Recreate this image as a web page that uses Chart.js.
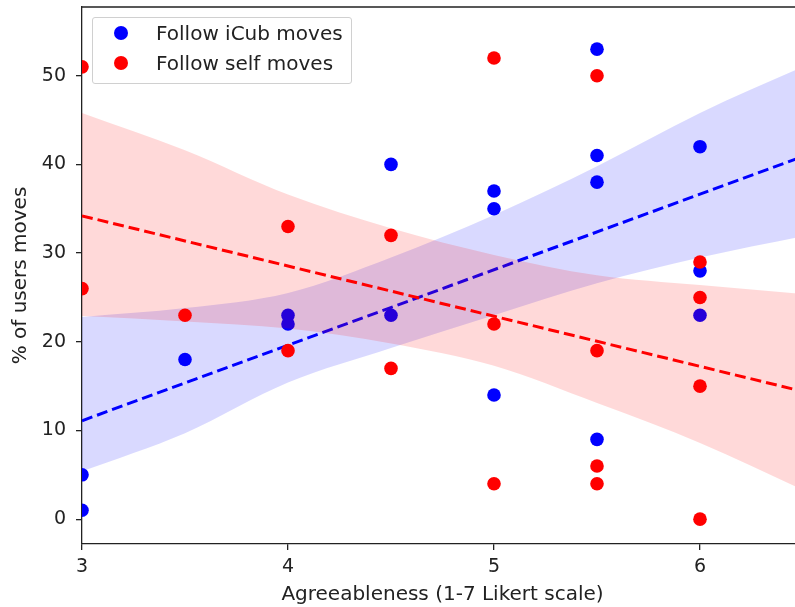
<!DOCTYPE html>
<html>
<head>
<meta charset="utf-8">
<script src="https://cdn.jsdelivr.net/npm/chart.js@4.4.1/dist/chart.umd.min.js"></script>
<style>
    html, body { margin: 0; padding: 0; background: #fff; overflow: hidden; }
    #wrap { position: relative; width: 795px; height: 607px; overflow: hidden; }
    #chart { position: absolute; left: 0; top: 0; }
    .legend {
        position: absolute; left: 92px; top: 17px; width: 258px; height: 65px;
        border: 1px solid #d0d0d0; border-radius: 3px; background: rgba(255,255,255,0.8);
        font-family: 'DejaVu Sans', sans-serif; font-size: 20px; color: #222;
    }
    .legend .row { position: absolute; left: 0; height: 24px; line-height: 24px; }
    .legend .dot { position: absolute; left: 21px; top: 5px; width: 14px; height: 14px; border-radius: 50%; }
    .legend .txt { position: absolute; left: 63px; white-space: nowrap; }
</style>
</head>
<body>
<div id="wrap">
    <canvas id="chart" width="810" height="607"></canvas>
    <div class="legend">
        <div class="row" style="top:3px"><span class="dot" style="background:#0000ff"></span><span class="txt">Follow iCub moves</span></div>
        <div class="row" style="top:33px"><span class="dot" style="background:#ff0000"></span><span class="txt">Follow self moves</span></div>
    </div>
</div>
<script>
const xTicks = [3, 4, 5, 6];
const yTicks = [0, 10, 20, 30, 40, 50];

// scatter points
const icubX = [3, 3, 3.5, 4, 4, 4.5, 4.5, 5, 5, 5, 5.5, 5.5, 5.5, 5.5, 6, 6, 6];
const icubY = [5, 1, 18, 23, 22, 40, 23, 37, 35, 14, 53, 41, 38, 9, 42, 28, 23];
const selfX = [3, 3, 3.5, 4, 4, 4.5, 4.5, 5, 5, 5, 5.5, 5.5, 5.5, 5.5, 6, 6, 6, 6];
const selfY = [51, 26, 23, 33, 19, 32, 17, 52, 22, 4, 50, 19, 6, 4, 29, 25, 15, 0];

// regression lines
const fitX = [3, 6.5];
const icubFit = [11.1, 40.9];
const selfFit = [34.2, 14.4];

// confidence bands
const bandX = [3, 3.5, 4, 4.5, 5, 5.5, 6, 6.5];
const icubUpper = [22.8, 23.8, 25.5, 29.5, 34.3, 39.8, 45.8, 51.0];
const icubLower = [5.4, 9.7, 15.4, 19.3, 23.0, 26.6, 29.5, 31.9];
const selfUpper = [45.8, 41.6, 36.6, 32.8, 29.8, 27.5, 26.4, 25.4];
const selfLower = [22.9, 22.3, 21.5, 19.8, 17.3, 13.1, 8.6, 3.3];

function toPoints(xs, ys) {
    return xs.map((x, i) => ({ x: x, y: ys[i] }));
}

function bandSet(ys, color, fill, order) {
    return {
        data: toPoints(bandX, ys),
        showLine: true,
        borderWidth: 0,
        borderColor: 'rgba(0,0,0,0)',
        backgroundColor: color,
        pointRadius: 0,
        cubicInterpolationMode: 'monotone',
        fill: fill,
        order: order
    };
}

function fitSet(ys, color, order) {
    return {
        data: toPoints(fitX, ys),
        showLine: true,
        borderColor: color,
        borderWidth: 3,
        borderDash: [11, 5],
        pointRadius: 0,
        fill: false,
        order: order
    };
}

function noPad(axis) {
    axis.paddingTop = 0;
    axis.paddingBottom = 0;
    axis.paddingLeft = 0;
    axis.paddingRight = 0;
}

const frame = {
    id: 'frame',
    afterDraw(chart) {
        const { ctx, chartArea } = chart;
        ctx.save();
        ctx.strokeStyle = '#222';
        ctx.lineWidth = 1.3;
        ctx.beginPath();
        ctx.moveTo(chartArea.left, chartArea.top);
        ctx.lineTo(chartArea.right, chartArea.top);
        ctx.lineTo(chartArea.right, chartArea.bottom);
        ctx.stroke();
        ctx.restore();
    }
};

Chart.defaults.font.family = "'DejaVu Sans', sans-serif";
Chart.defaults.font.size = 20;
Chart.defaults.color = '#222';

const ctx = document.getElementById('chart').getContext('2d');
new Chart(ctx, {
    type: 'scatter',
    data: {
        datasets: [
            {
                label: 'Follow iCub moves',
                data: toPoints(icubX, icubY),
                backgroundColor: '#0000ff',
                borderWidth: 0,
                pointRadius: 6.8,
                order: 6
            },
            fitSet(icubFit, '#0000ff', 5),
            bandSet(icubLower, 'rgba(0,0,255,0.15)', false, 4),
            bandSet(icubUpper, 'rgba(0,0,255,0.15)', '-1', 4),
            {
                label: 'Follow self moves',
                data: toPoints(selfX, selfY),
                backgroundColor: '#ff0000',
                borderWidth: 0,
                pointRadius: 6.8,
                order: 3
            },
            fitSet(selfFit, '#ff0000', 2),
            bandSet(selfLower, 'rgba(255,0,0,0.15)', false, 1),
            bandSet(selfUpper, 'rgba(255,0,0,0.15)', '-1', 1)
        ]
    },
    options: {
        responsive: false,
        animation: false,
        layout: { padding: { top: 7, right: 7, left: 0, bottom: 0 } },
        plugins: {
            legend: { display: false },
            tooltip: { enabled: false }
        },
        scales: {
            x: {
                type: 'linear',
                min: 3,
                max: 6.5,
                afterBuildTicks: axis => { axis.ticks = xTicks.map(v => ({ value: v })); },
                afterFit: axis => { axis.height = 63; noPad(axis); },
                ticks: { padding: 6, color: '#222', font: { size: 19 } },
                grid: { drawOnChartArea: false, tickLength: 6, color: '#222', lineWidth: 1.3 },
                border: { color: '#222', width: 1.3 },
                title: { display: true, text: 'Agreeableness (1-7 Likert scale)', color: '#222', padding: { top: 0, bottom: 0 } }
            },
            y: {
                type: 'linear',
                min: -2.8,
                max: 57.75,
                afterBuildTicks: axis => { axis.ticks = yTicks.map(v => ({ value: v })); },
                afterFit: axis => { axis.width = 82; noPad(axis); },
                ticks: { padding: 10, color: '#222', font: { size: 19 } },
                grid: { drawOnChartArea: false, tickLength: 6, color: '#222', lineWidth: 1.3 },
                border: { color: '#222', width: 1.3 },
                title: { display: true, text: '% of users moves', color: '#222', padding: { top: 9, bottom: 0 } }
            }
        }
    },
    plugins: [frame]
});
</script>
</body>
</html>
